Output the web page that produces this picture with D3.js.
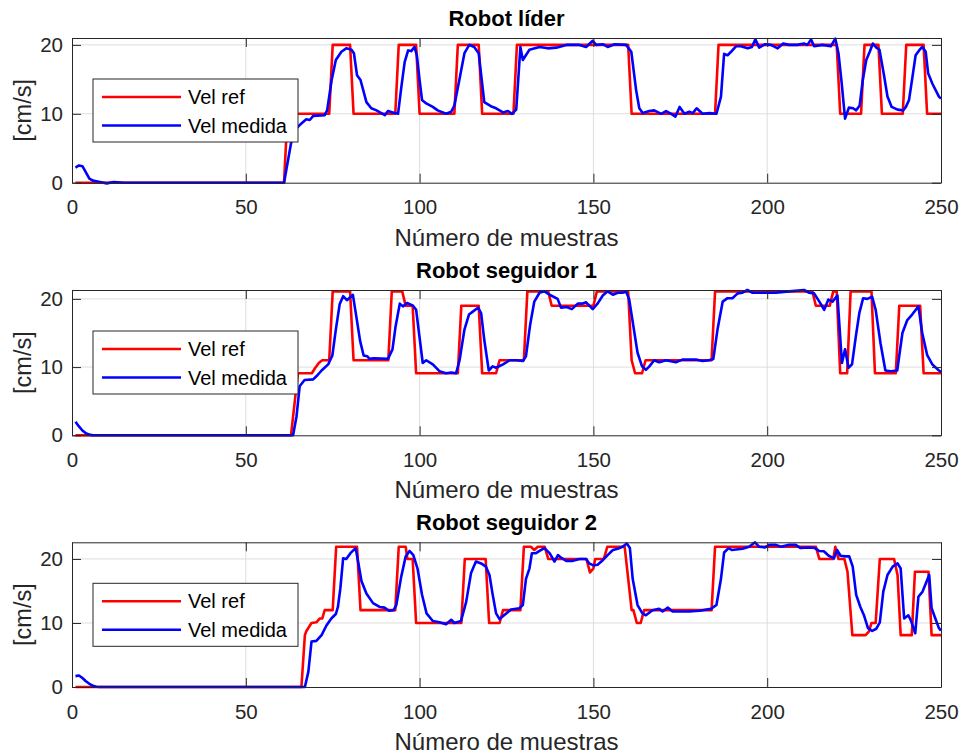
<!DOCTYPE html>
<html>
<head>
<meta charset="utf-8">
<script src="https://cdn.jsdelivr.net/npm/d3@7/dist/d3.min.js"></script>
<style>
  body { margin: 0; background: #fff; }
  svg { display: block; font-family: "Liberation Sans", Arial, Helvetica, sans-serif; }
</style>
</head>
<body>
<div id="chart"></div>
<script>
// titles / labels
const titles = ["Robot líder", "Robot seguidor 1", "Robot seguidor 2"];
const seriesNames = ["Vel ref", "Vel medida"];
const xTicks = [0, 50, 100, 150, 200, 250];
const yTicks = [0, 10, 20];
const yMax = [21, 21.3, 22.6];

// [sample, cm/s]
const ref1 = [[1,0],[61,0],[62,10],[74,10],[75,20],[80,20],[81,10],[93,10],[94,20],[99,20],[100,10],[110,10],[111,20],[117,20],[118,10],[127,10],[128,20],[160,20],[161,10],[185,10],[186,20],[220,20],[221,10],[227,10],[228,20],[232,20],[233,10],[239,10],[240,20],[245,20],[246,10],[250,10]];
const med1 = [[1,2.2],[2,2.5],[3,2.4],[4,1.5],[5,0.6],[6,0.3],[7,0.2],[8,0.1],[10,-0.1],[12,0.1],[15,0],[61,0],[63,5.7],[64.6,7.9],[66,8.6],[67.4,9.2],[68.4,9.1],[69.4,9.7],[72.7,9.8],[73.4,10.5],[74.7,14.9],[75.9,17.8],[77.5,19.0],[78.9,19.5],[80.4,19.3],[81.1,18.8],[82,15.6],[83,14.9],[84.7,11.7],[86.1,10.8],[87.6,10.5],[90,9.8],[90.9,10.4],[92.3,10.2],[93.8,10],[94.7,13.7],[95.7,17.5],[96.7,19.2],[97.6,19.1],[98.5,19.7],[99.2,18.5],[100,14.9],[100.7,12],[101.9,11.5],[103.8,11],[105.2,10.5],[107.6,10],[109.1,10.3],[110,11.2],[111.5,15.1],[112.9,18.8],[114.3,20],[115.7,19.7],[117,18.8],[118.6,11.7],[120.5,11.1],[122,10.8],[124,10.2],[125.4,10.4],[126.6,10],[127.8,10.6],[129,19.7],[129.7,17.8],[131.6,19.3],[134.5,19.7],[136.9,19.5],[139.3,19.6],[142.2,20],[146,20],[147.9,19.7],[149.8,20.6],[150.8,20],[152.7,20.1],[154.1,19.7],[156.1,20.1],[159.4,20],[160.9,19],[162.3,13.4],[163.2,10.8],[164.2,10.1],[166.1,10.4],[167.5,10.5],[169.5,10],[170.9,10.4],[172.4,10],[173.6,9.6],[174.8,11],[176.2,10],[177.6,10.3],[178.6,10.1],[179.7,10.8],[181.4,10],[183.4,10.1],[185.4,10],[186.7,12.5],[187.6,18.7],[188.6,18.5],[189.6,19],[191,19.8],[192.4,19.8],[194.4,19.5],[195.6,19.7],[196.6,20.8],[197.7,19.6],[199.4,20.1],[201.1,20],[203,19.5],[204.6,20.2],[206.3,20],[208.7,20],[210.6,20.2],[211.6,20],[212.6,20.8],[213.5,19.8],[215.9,20],[218.3,19.8],[219.6,20.9],[220.5,18.8],[221.4,14.6],[222.4,9.3],[223.5,10.9],[224.7,10.8],[225.6,10.5],[226.6,11.2],[227.5,14.9],[228.5,17.8],[229.5,19],[230.4,20.2],[231.4,19.6],[232.3,19.3],[233.6,15.6],[234.6,12.5],[235.8,11],[237.5,10.6],[239.1,10.5],[239.9,11],[240.8,12],[241.8,15.4],[242.7,18.5],[243.7,19.2],[244.6,19.7],[245.6,19],[246.3,15.9],[247.5,14.4],[249.4,12.5],[250,12.2]];

const ref2 = [[1,0],[63,0],[65,9.1],[69,9.1],[70,9.9],[71,10.6],[72,11],[74,11],[75,21.1],[80,21.1],[81,11],[91,11],[92,21.1],[95,21.1],[96,19],[98,19],[99,9.1],[111,9.1],[112,19],[117,19],[118,9.1],[122,9.1],[123,11],[130,11],[131,21.1],[137,21.1],[138,19],[150,19],[151,21.1],[160,21.1],[161,11],[162,9.1],[164,9.1],[165,11],[184,11],[185,21.1],[213,21.1],[214,19],[218,19],[219,21.1],[220,21.1],[221,9.1],[223,9.1],[224,21.1],[230,21.1],[231,9.1],[237,9.1],[238,19],[244,19],[245,9.1],[250,9.1]];
const med2 = [[1,2.0],[2,1.3],[3,0.7],[4,0.3],[5,0.1],[6,0],[63.6,0],[64.6,2.8],[65.5,7.2],[66.9,8.1],[69.4,8.2],[70.3,8.65],[71.8,9.5],[73.7,10.4],[74.9,11.7],[75.9,15.5],[77,19.2],[78,20.4],[79.1,19.8],[80.8,20.6],[81.8,17.4],[82.9,13.8],[83.9,11.7],[84.9,11.6],[85.6,11.2],[86.8,11.3],[90.9,11.2],[92.2,12.6],[93.1,16],[94.3,19.3],[95.2,18.9],[96.4,19.4],[98.1,19],[99,18.4],[100,14.3],[100.9,10.6],[101.9,11],[103.8,10.4],[105.7,9.4],[107.6,9.1],[109.1,9.2],[110.5,9.1],[111.5,11],[112.9,15.5],[114.2,17.7],[115.5,18.2],[116.8,18.7],[117.7,17.9],[118.6,14],[119.9,9.5],[121,10.1],[122,9.9],[124,10.4],[125.9,11],[127.8,11],[129.7,10.9],[130.6,11.6],[131.8,16.2],[133,19.6],[134.5,20.9],[135.9,21.1],[137.4,20.6],[139.7,20],[140.7,18.7],[142.3,18.8],[143.8,18.5],[145.5,19.3],[146.7,19.3],[147.9,19.5],[148.8,19],[149.8,18.5],[151.2,19.3],[152.7,20.5],[154.1,21.1],[155.6,20.6],[157,20.9],[158.4,20.9],[159.4,21.1],[160.3,19.9],[161.5,16],[162.7,12.1],[164,10.1],[165.1,9.6],[166.1,10.1],[167.5,11],[168.9,10.7],[170.9,11],[173.7,10.7],[175.6,11.1],[179.5,11.1],[181.4,10.9],[183.3,11],[184.5,11.2],[185.7,15.5],[187.2,19.6],[188.6,20.1],[190,20.1],[191.5,20.8],[192.9,20.9],[194.3,21.3],[195.8,20.9],[198.6,20.9],[202.5,20.9],[206.3,21.1],[210.6,21.3],[212.1,20.9],[213.5,20.8],[215,19.6],[216.4,18.4],[217.6,19.9],[218.8,19.6],[220.2,20.5],[221.5,10.6],[222.4,12.6],[223.4,9.9],[224.4,10.4],[225.5,14.5],[226.5,17.9],[227.6,20.1],[228.8,20],[230.2,20.3],[231.2,18.4],[232.6,13.5],[234,9.5],[235.5,9.4],[237.4,9.5],[238.9,15],[240.3,16.9],[241.7,17.7],[243.5,18.9],[244.6,15],[246,11.8],[247.5,10.4],[249.4,9.5],[250,9.3]];

const ref3 = [[1,0],[66,0],[67,8.1],[67.4,8.7],[68.9,10],[70.3,10.1],[71.3,10.7],[72,10.7],[72.7,12],[75,12],[76,21.9],[82,21.9],[83,12],[93,12],[94,21.9],[96,21.9],[96.5,20],[98,20],[99,10],[112,10],[113,20],[119,20],[120,10],[123,10],[124,12],[129,12],[130,21.9],[132,21.9],[133,21.4],[134,21.9],[136,21.9],[137,20],[148,20],[149,17.9],[150,18.5],[150.5,20],[153,20],[154,21.9],[159,21.9],[161,12],[161.5,12],[162.5,10],[163.6,10],[164.6,12],[184,12],[185,21.9],[214,21.9],[215,20],[219,20],[219.6,21.9],[220.5,20],[222.2,20],[223.1,18],[224.5,8.1],[228.3,8.1],[229.3,8.7],[230,10],[231.2,10],[232.4,20],[236.5,20],[237.5,17.5],[238.4,8.1],[241.6,8.1],[242.5,18],[246.4,18],[247.3,8.1],[250,8.1]];
const med3 = [[1,1.7],[2,1.8],[3,1.4],[4,0.9],[5,0.5],[6,0.2],[7,0.05],[8,0],[67,0],[68,2.4],[68.9,7.1],[70.3,7.2],[71.8,8.1],[73.2,9.6],[74.6,10.7],[75.9,11.4],[76.5,12.5],[77.2,15.4],[78,20.1],[78.9,20],[80.1,20.9],[81.6,21.7],[82.3,19.6],[83.3,16.5],[84.7,14.6],[86.6,13.1],[88.5,12.5],[89.9,12.4],[91.2,11.9],[92.5,12],[93.3,12.8],[94.7,17.2],[96,20.4],[97.1,21.25],[98.2,20.6],[99.4,18.5],[100.7,14.4],[102,11.5],[103.8,10.3],[105.7,10.1],[107.6,9.8],[109.1,10.5],[110,10],[111.9,10.3],[113.4,13.3],[114.8,17.8],[116.2,19.6],[117.7,19.3],[119.1,18.8],[120.1,17.5],[121,14.5],[122,11.5],[123,10.6],[124.3,11.2],[126.3,12.1],[128.7,12.3],[129.7,12.8],[130.6,16.9],[131.6,18.5],[132.3,20.9],[133.5,20.9],[134.5,21.25],[135.9,21.7],[137.4,20.9],[138.8,19.6],[139.8,20.6],[140.7,20.2],[142.2,19.7],[144.1,19.7],[146,20],[147.9,20],[148.8,19.3],[150,19],[151.2,19.1],[152.7,19.8],[154.1,20.6],[155.6,21.4],[157,21.6],[158.4,21.9],[159.6,22.4],[160.5,21.7],[161.3,16.9],[162.7,12.8],[164.1,11.5],[165.1,11.2],[167,12],[168.9,12.2],[169.9,11.8],[171.4,12.4],[172.8,11.8],[177.6,11.8],[180.5,11.9],[183.8,12.2],[185.4,12.8],[186.7,16.9],[187.6,21],[188.9,21.7],[189.8,21.4],[192.9,21.6],[194.8,21.9],[196.5,22.6],[197.7,21.9],[199.4,21.8],[200.6,22.2],[202.5,22.2],[203.9,21.9],[206.3,22.2],[208.2,22.2],[209.6,21.7],[212,21.8],[213.7,21.7],[214.9,21.25],[216.3,21.2],[217.7,20.5],[219.2,20.1],[220.1,21.4],[221.1,20.5],[222.5,20.4],[223.6,20.4],[224.6,18.8],[225.6,14.4],[226.8,12.5],[227.8,11.25],[229,9.2],[230.2,8.75],[231.4,9.1],[232.4,10.1],[233.4,14.9],[234.6,17.5],[236.1,18.8],[237.5,19.3],[238.4,18.5],[239.4,10.7],[240.6,11.2],[241.4,10.3],[242.6,8.4],[243.5,14.1],[244.7,14.9],[246.6,17.5],[247.3,12.3],[248.5,10.5],[249.4,9.2],[250,8.8]];

const refs = [ref1, ref2, ref3];
const meds = [med1, med2, med3];

// layout (px)
const W = 962, H = 755;
const left = 72, right = 941;
const panelTop = [38, 290, 542.3];
const panelBottom = [182.7, 435.3, 687];
const ink = "#262626";
const colRef = "#ff0000", colMed = "#0000ff";

const svg = d3.select("#chart").append("svg")
    .attr("width", W)
    .attr("height", H);

const x = d3.scaleLinear().domain([0, 250]).range([left, right]);

titles.forEach((title, i) => {
    const top = panelTop[i], bottom = panelBottom[i];
    const y = d3.scaleLinear().domain([0, yMax[i]]).range([bottom, top]);
    const g = svg.append("g");

    // grid
    g.append("g").selectAll("line.gx")
        .data(xTicks.slice(1, -1))
        .join("line")
        .attr("x1", d => x(d)).attr("x2", d => x(d))
        .attr("y1", top).attr("y2", bottom)
        .attr("stroke", "#dedede").attr("stroke-width", 1);
    g.append("g").selectAll("line.gy")
        .data(yTicks.slice(1))
        .join("line")
        .attr("x1", left).attr("x2", right)
        .attr("y1", d => y(d)).attr("y2", d => y(d))
        .attr("stroke", "#dedede").attr("stroke-width", 1);

    // lines
    const line = d3.line().x(d => x(d[0])).y(d => y(d[1]));
    g.append("path").datum(refs[i])
        .attr("d", line)
        .attr("fill", "none").attr("stroke", colRef).attr("stroke-width", 2.6)
        .attr("stroke-linejoin", "round");
    g.append("path").datum(meds[i])
        .attr("d", line)
        .attr("fill", "none").attr("stroke", colMed).attr("stroke-width", 2.6)
        .attr("stroke-linejoin", "round");

    // axes, ticks pointing inward on all sides
    const ax = (axis, tr) => {
        const a = g.append("g").attr("transform", tr).call(axis);
        a.select(".domain").attr("stroke", ink);
        a.selectAll(".tick line").attr("stroke", ink);
        a.selectAll("text").attr("fill", ink).attr("font-size", 20.5);
        return a;
    };
    ax(d3.axisBottom(x).tickValues(xTicks).tickSize(-9).tickPadding(17).tickSizeOuter(0),
        `translate(0,${bottom})`);
    ax(d3.axisTop(x).tickValues(xTicks).tickSize(-9).tickFormat("").tickSizeOuter(0),
        `translate(0,${top})`);
    ax(d3.axisLeft(y).tickValues(yTicks).tickSize(-9).tickPadding(9).tickSizeOuter(0),
        `translate(${left},0)`);
    ax(d3.axisRight(y).tickValues(yTicks).tickSize(-9).tickFormat("").tickSizeOuter(0),
        `translate(${right},0)`);

    // title and labels
    svg.append("text")
        .attr("x", (left + right) / 2).attr("y", top - 12)
        .attr("text-anchor", "middle")
        .attr("font-size", 22).attr("font-weight", "bold").attr("fill", "#000")
        .text(title);
    svg.append("text")
        .attr("x", (left + right) / 2).attr("y", bottom + 63)
        .attr("text-anchor", "middle")
        .attr("font-size", 24).attr("fill", ink)
        .text("Número de muestras");
    svg.append("text")
        .attr("transform", `translate(23,${(top + bottom) / 2}) rotate(-90)`)
        .attr("dy", "0.35em")
        .attr("text-anchor", "middle")
        .attr("font-size", 23.5).attr("fill", ink)
        .text("[cm/s]");

    // legend
    const lg = svg.append("g").attr("transform", `translate(93,${top + 41})`);
    lg.append("rect")
        .attr("width", 205).attr("height", 63)
        .attr("fill", "#fff").attr("stroke", ink).attr("stroke-width", 1);
    [colRef, colMed].forEach((c, k) => {
        const yy = 18 + k * 28.5;
        lg.append("line")
            .attr("x1", 9).attr("x2", 88).attr("y1", yy).attr("y2", yy)
            .attr("stroke", c).attr("stroke-width", 2.6);
        lg.append("text")
            .attr("x", 95).attr("y", yy).attr("dy", "0.35em")
            .attr("font-size", 20).attr("fill", "#000")
            .text(seriesNames[k]);
    });
});
</script>
</body>
</html>
